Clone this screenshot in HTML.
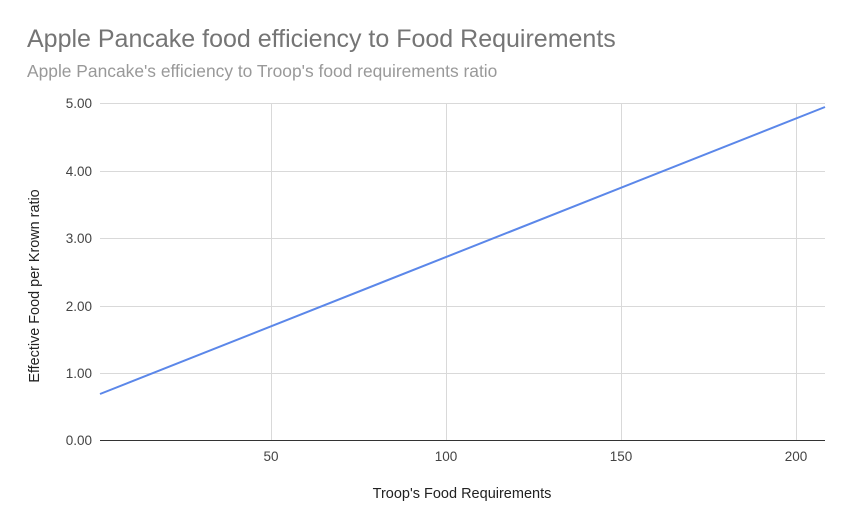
<!DOCTYPE html>
<html><head><style>body{margin:0;background:#fff}svg{display:block}</style></head>
<body>
<svg width="852" height="526" xmlns="http://www.w3.org/2000/svg" font-family="Liberation Sans, Arial, sans-serif">
<rect width="852" height="526" fill="#fff"/>
<text x="27" y="47" font-size="25" fill="#757575">Apple Pancake food efficiency to Food Requirements</text>
<text x="27" y="77" font-size="17.4" fill="#999">Apple Pancake's efficiency to Troop's food requirements ratio</text>
<g stroke="#d9d9d9" stroke-width="1">
<line x1="100" x2="825" y1="103.5" y2="103.5"/>
<line x1="100" x2="825" y1="171.5" y2="171.5"/>
<line x1="100" x2="825" y1="238.5" y2="238.5"/>
<line x1="100" x2="825" y1="306.5" y2="306.5"/>
<line x1="100" x2="825" y1="373.5" y2="373.5"/>
<line x1="271.5" x2="271.5" y1="103" y2="440"/>
<line x1="446.5" x2="446.5" y1="103" y2="440"/>
<line x1="621.5" x2="621.5" y1="103" y2="440"/>
<line x1="796.5" x2="796.5" y1="103" y2="440"/>
</g>
<line x1="100" x2="825" y1="440.5" y2="440.5" stroke="#333" stroke-width="1"/>
<g font-size="13.5" fill="#444" text-anchor="end">
<text x="92" y="108">5.00</text>
<text x="92" y="176">4.00</text>
<text x="92" y="243">3.00</text>
<text x="92" y="311">2.00</text>
<text x="92" y="378">1.00</text>
<text x="92" y="445">0.00</text>
</g>
<g font-size="13.5" fill="#444" text-anchor="middle">
<text x="271" y="461">50</text>
<text x="446" y="461">100</text>
<text x="621" y="461">150</text>
<text x="796" y="461">200</text>
</g>
<text x="462" y="498" font-size="14.5" fill="#222" text-anchor="middle">Troop's Food Requirements</text>
<text transform="translate(39,286) rotate(-90)" font-size="14.4" fill="#222" text-anchor="middle">Effective Food per Krown ratio</text>
<line x1="100" y1="394" x2="825" y2="107" stroke="#5b87e9" stroke-width="2"/>
</svg>
</body></html>
